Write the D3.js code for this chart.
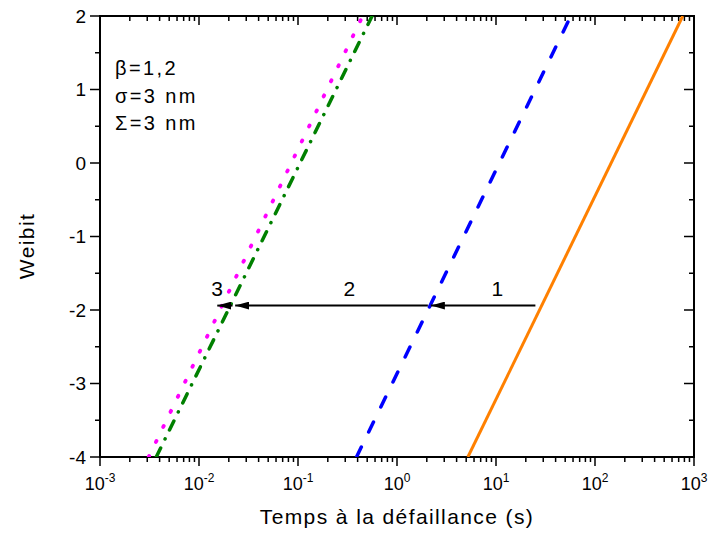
<!DOCTYPE html>
<html>
<head>
<meta charset="utf-8">
<script src="https://d3js.org/d3.v7.min.js"></script>
<style>
  body { margin: 0; background: #fff; }
  text { font-family: "Liberation Sans", Arial, sans-serif; fill: #000; }
</style>
</head>
<body>
<div id="chart"></div>
<script>
// weibit range of each line (both ends)
var weibitEnds = [-4, 2];

// time at those two weibit values, per curve (s)
var orangeTimes  = [5.2, 770];
var blueTimes    = [0.39, 57];
var greenTimes   = [0.0037, 0.56];
var magentaTimes = [0.0031, 0.45];

// arrows between the curves, at weibit -1.94
var arrowWeibit = -1.94;
var arrowFrom   = [25, 2.05, 0.0218];
var arrowTo     = [2.2, 0.0232, 0.0153];
var arrowLabels = ["1", "2", "3"];
var labelTimes  = [10.3, 0.33, 0.0152];

var xTickExps = [-3, -2, -1, 0, 1, 2, 3];
var yTicks = [-4, -3, -2, -1, 0, 1, 2];
var notes = ["\u03b2=1,2", "\u03c3=3 nm", "\u03a3=3 nm"];

var width = 708, height = 534;
var margin = {left: 100, right: 14, top: 16, bottom: 77};
var iw = width - margin.left - margin.right,
    ih = height - margin.top - margin.bottom;

var svg = d3.select("#chart")
    .append("svg")
    .attr("width", width)
    .attr("height", height);

var g = svg.append("g")
    .attr("transform", "translate(" + margin.left + "," + margin.top + ")");

var x = d3.scaleLog().domain([1e-3, 1e3]).range([0, iw]);
var y = d3.scaleLinear().domain([-4, 2]).range([ih, 0]);

// minor ticks for the log axis
var minorX = [];
xTickExps.slice(0, -1).forEach(function(e){
    for (var k = 2; k <= 9; k++) minorX.push(k * Math.pow(10, e));
});
var minorY = [-3.5, -2.5, -1.5, -0.5, 0.5, 1.5];

function drawTicks(sel, vals, scale, horiz, len, cls) {
    sel.selectAll("line." + cls)
        .data(vals)
        .enter()
        .append("line")
        .attr("class", cls)
        .attr("x1", function(d){ return horiz ? scale(d) : 0; })
        .attr("x2", function(d){ return horiz ? scale(d) : len; })
        .attr("y1", function(d){ return horiz ? 0 : scale(d); })
        .attr("y2", function(d){ return horiz ? len : scale(d); })
        .attr("stroke", "#000")
        .attr("stroke-width", 1.5);
}

var majorX = xTickExps.map(function(e){ return Math.pow(10, e); });

// bottom axis, ticks outward
var axBottom = g.append("g").attr("transform", "translate(0," + ih + ")");
drawTicks(axBottom, minorX, x, true, 5, "minor");
drawTicks(axBottom, majorX, x, true, 9, "major");

// top axis, ticks inward
var axTop = g.append("g");
drawTicks(axTop, minorX, x, true, 5, "minor");
drawTicks(axTop, majorX, x, true, 9, "major");

// left axis, ticks outward
var axLeft = g.append("g");
drawTicks(axLeft, minorY, y, false, -5, "minor");
drawTicks(axLeft, yTicks, y, false, -10, "major");

// right axis, ticks inward
var axRight = g.append("g").attr("transform", "translate(" + iw + ",0)");
drawTicks(axRight, minorY, y, false, -5, "minor");
drawTicks(axRight, yTicks, y, false, -10, "major");

// frame
g.append("rect")
    .attr("width", iw)
    .attr("height", ih)
    .attr("fill", "none")
    .attr("stroke", "#000")
    .attr("stroke-width", 2);

// tick labels
var xl = g.selectAll("text.xl")
    .data(xTickExps)
    .enter()
    .append("text")
    .attr("class", "xl")
    .attr("x", function(d){ return x(Math.pow(10, d)); })
    .attr("y", ih + 33)
    .attr("text-anchor", "middle")
    .style("font-size", "18px");
xl.append("tspan").text("10");
xl.append("tspan")
    .attr("dy", -8)
    .style("font-size", "12px")
    .text(function(d){ return d; });

g.selectAll("text.yl")
    .data(yTicks)
    .enter()
    .append("text")
    .attr("class", "yl")
    .attr("x", -14)
    .attr("y", function(d){ return y(d); })
    .attr("dy", "0.36em")
    .attr("text-anchor", "end")
    .style("font-size", "19px")
    .text(function(d){ return d; });

// axis titles
svg.append("text")
    .attr("x", margin.left + iw / 2)
    .attr("y", 524)
    .attr("text-anchor", "middle")
    .style("font-size", "21px")
    .style("letter-spacing", "1.4px")
    .text("Temps à la défaillance (s)");

svg.append("text")
    .attr("transform", "translate(34,246) rotate(-90)")
    .attr("text-anchor", "middle")
    .style("font-size", "21px")
    .style("letter-spacing", "1.4px")
    .text("Weibit");

// curves
var curves = [
    {times: orangeTimes,  color: "#ff8000", dash: null,             w: 3},
    {times: blueTimes,    color: "#0000ff", dash: "11,16.8",        w: 3.5},
    {times: greenTimes,   color: "#008000", dash: "10,10,0.1,10",   w: 3.5},
    {times: magentaTimes, color: "#ff00ff", dash: "1.2,15.5",       w: 3.8}
];

var line = d3.line()
    .x(function(d){ return x(d[0]); })
    .y(function(d){ return y(d[1]); });

g.append("clipPath").attr("id", "clip")
    .append("rect").attr("width", iw).attr("height", ih);

g.append("g")
    .attr("clip-path", "url(#clip)")
    .selectAll("path")
    .data(curves)
    .enter()
    .append("path")
    .attr("d", function(c){
        return line(c.times.map(function(t, i){ return [t, weibitEnds[i]]; }));
    })
    .attr("fill", "none")
    .attr("stroke", function(c){ return c.color; })
    .attr("stroke-width", function(c){ return c.w; })
    .attr("stroke-linecap", function(c){ return c.dash ? "round" : "butt"; })
    .attr("stroke-dasharray", function(c){ return c.dash; });

// arrows
svg.append("defs").append("marker")
    .attr("id", "head")
    .attr("viewBox", "0 0 14 8")
    .attr("refX", 14)
    .attr("refY", 4)
    .attr("markerWidth", 14)
    .attr("markerHeight", 8)
    .attr("markerUnits", "userSpaceOnUse")
    .attr("orient", "auto")
    .append("path")
    .attr("d", "M0,0L14,4L0,8Z")
    .attr("fill", "#000");

g.selectAll("line.arrow")
    .data(arrowFrom)
    .enter()
    .append("line")
    .attr("class", "arrow")
    .attr("x1", function(d){ return x(d); })
    .attr("x2", function(d, i){ return x(arrowTo[i]); })
    .attr("y1", y(arrowWeibit))
    .attr("y2", y(arrowWeibit))
    .attr("stroke", "#000")
    .attr("stroke-width", 2)
    .attr("marker-end", "url(#head)");

g.selectAll("text.al")
    .data(arrowLabels)
    .enter()
    .append("text")
    .attr("class", "al")
    .attr("x", function(d, i){ return x(labelTimes[i]); })
    .attr("y", y(arrowWeibit) - 10)
    .attr("text-anchor", "middle")
    .style("font-size", "21px")
    .text(function(d){ return d; });

// parameters
g.selectAll("text.note")
    .data(notes)
    .enter()
    .append("text")
    .attr("class", "note")
    .attr("x", 15)
    .attr("y", function(d, i){ return 59 + i * 27.5; })
    .style("font-size", "20px")
    .style("letter-spacing", "2.4px")
    .text(function(d){ return d; });
</script>
</body>
</html>
